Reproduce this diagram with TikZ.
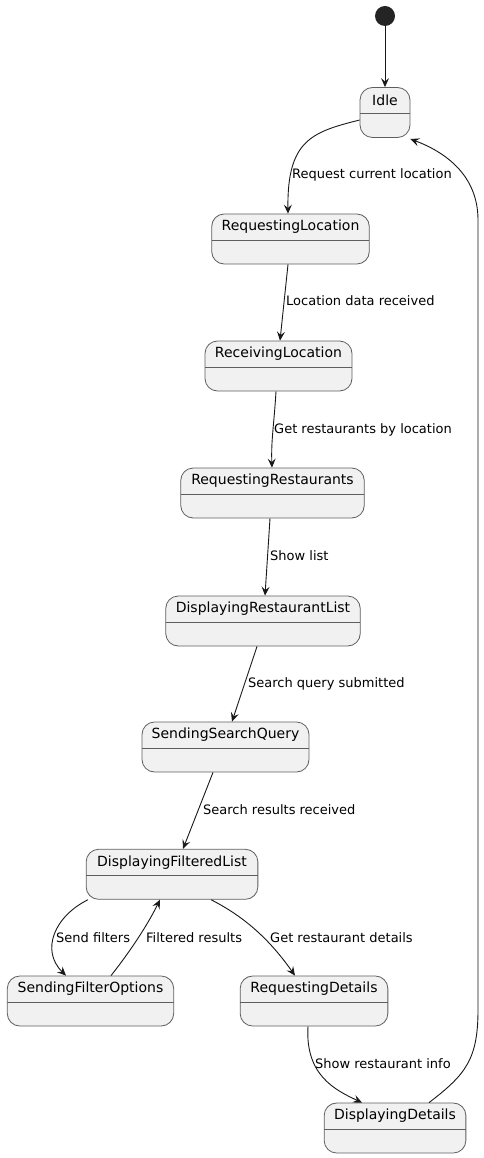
\documentclass[tikz,border=0pt]{standalone}
\usepackage{fontspec}
\setmainfont{DejaVu Sans}
\usetikzlibrary{arrows.meta,calc}
\definecolor{stfill}{HTML}{F1F1F1}
\definecolor{stline}{HTML}{5E5E5E}
\definecolor{edge}{HTML}{181818}
\tikzset{
  st/.style={draw=stline, line width=0.8pt, fill=stfill, rounded corners=12.5pt,
    minimum height=50pt, inner sep=0pt,
    path picture={\draw[stline, line width=0.8pt]
      ($(path picture bounding box.north west)+(0,-26pt)$) --
      ($(path picture bounding box.north east)+(0,-26pt)$);}},
  nm/.style={font=\fontsize{14}{16}\selectfont},
  tr/.style={draw=edge, line width=0.9pt, -{Stealth[length=9pt,width=8pt,inset=3.5pt]}},
  lb/.style={anchor=west, inner sep=0pt, font=\fontsize{13}{15}\selectfont}
}
\newcommand{\stnode}[5]{%
  \node[st, minimum width=#4pt] (#1) at (#2,#3) {};
  \node[nm] (#1t) at ($(#1.north)+(0,-13.5pt)$) {#5};}
\begin{document}
\begin{tikzpicture}[x=1pt,y=-1pt]
\useasboundingbox (0,0) rectangle (484,1158);
\node[circle, fill=edge!95!white, minimum size=20pt, inner sep=0pt] (start) at (385,16) {};
\stnode{idle}{385}{112.5}{50}{Idle}
\stnode{reqloc}{290.5}{239}{157.6}{RequestingLocation}
\stnode{recloc}{278.5}{366}{147}{ReceivingLocation}
\stnode{reqrest}{272.5}{493}{183.5}{RequestingRestaurants}
\stnode{drl}{263}{621}{194.5}{DisplayingRestaurantList}
\stnode{ssq}{225.5}{747}{167}{SendingSearchQuery}
\stnode{dfl}{172}{874.3}{171.7}{DisplayingFilteredList}
\stnode{sfo}{90.5}{1001}{166.4}{SendingFilterOptions}
\stnode{rd}{314}{1001}{147.7}{RequestingDetails}
\stnode{dd}{395}{1128}{141.7}{DisplayingDetails}

\draw[tr] (start) -- (idle.north);
\draw[tr] (idle.west|-0,120) .. controls (312,132) and (287,140) .. (reqloc.north-|288,0);
\node[lb] (l1) at (292,175) {Request current location};
\draw[tr] (reqloc.south-|288,0) -- (recloc.north-|280,0);
\node[lb] (l2) at (286,301) {Location data received};
\draw[tr] (recloc.south-|276,0) .. controls (274,425) and (271,440) .. (reqrest.north-|272,0);
\node[lb] (l3) at (274,430) {Get restaurants by location};
\draw[tr] (reqrest.south-|270,0) -- (drl.north-|265,0);
\node[lb] (l4) at (270,556) {Show list};
\draw[tr] (drl.south-|257,0) -- (ssq.north-|232,0);
\node[lb] (l5) at (248,684) {Search query submitted};
\draw[tr] (ssq.south-|213,0) -- (dfl.north-|183,0);
\node[lb] (l6) at (203,810) {Search results received};
\draw[tr] (dfl.south-|88,0) .. controls (55,916) and (40,950) .. (sfo.north-|66,0);
\node[lb] (l7) at (56,938) {Send filters};
\draw[tr] (sfo.north-|111,0) .. controls (125,958) and (145,930) .. (dfl.south-|160,0);
\node[lb] (l8) at (146,938) {Filtered results};
\draw[tr] (dfl.south-|211,0) .. controls (245,917) and (270,940) .. (rd.north-|295,0);
\node[lb] (l9) at (270,938) {Get restaurant details};
\draw[tr] (rd.south-|308,0) .. controls (305,1075) and (335,1090) .. (dd.north-|362,0);
\node[lb] (l10) at (315,1064) {Show restaurant info};
\draw[tr] (dd.north-|429,0) .. controls (465,1075) and (478,1060) .. (478,1010)
  -- (478,220) .. controls (478,175) and (445,152) .. (idle.east|-0,139);
\end{tikzpicture}
\end{document}
